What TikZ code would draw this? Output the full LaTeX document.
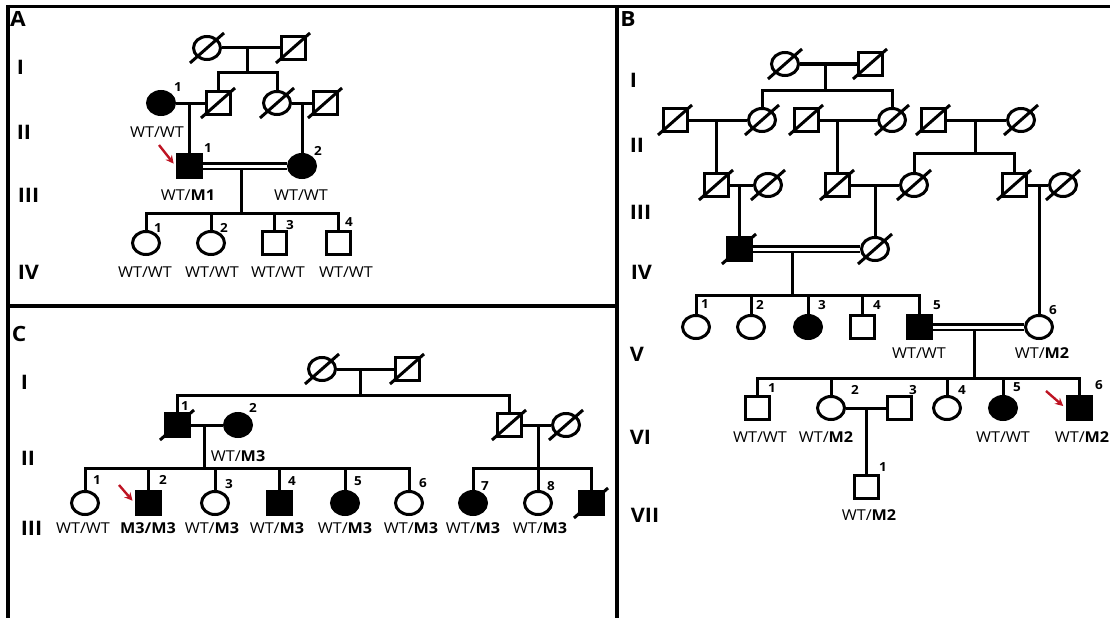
\documentclass[tikz,border=0pt]{standalone}
\usepackage{fontspec}
\setmainfont{Open Sans}[FakeStretch=1.08]
\usetikzlibrary{shapes.geometric,arrows.meta}
\definecolor{rosso}{RGB}{190,20,35}
% segno di decesso
\newcommand{\deceduto}[1]{\draw[taglio] ([shift={(-17,15)}]#1.center) -- ([shift={(17,-15)}]#1.center);}
\begin{document}
\begin{tikzpicture}[x=1pt, y=-1pt, line width=3pt,
    maschio/.style={draw, rectangle, minimum width=24pt, minimum height=23pt, inner sep=0pt},
    femmina/.style={draw, ellipse, minimum width=27pt, minimum height=23pt, inner sep=0pt},
    malato/.style={fill=black},
    taglio/.style={line width=3pt},
    consang/.style={double, double distance=3pt, line width=2.4pt},
    freccia/.style={rosso, line width=2.4pt, -{Stealth[length=8pt, width=8pt]}, shorten >=3pt},
    genot/.style={font=\fontsize{15}{15}\selectfont},
    num/.style={font=\bfseries\fontsize{12.5}{12.5}\selectfont},
    gen/.style={font=\bfseries\fontsize{20}{20}\selectfont, anchor=west},
    pannello/.style={font=\bfseries\fontsize{21}{21}\selectfont}]
    \useasboundingbox (0,0) rectangle (1110,618);

    % Cornici
    \draw[line width=3.4pt] (8,6.5) -- (1110,6.5);
    \draw[line width=3.4pt] (8,5) -- (8,618);
    \draw[line width=3.4pt] (617,5) -- (617,618);
    \draw[line width=3.4pt] (8,306) -- (617,306);

    % ---------------- Pannello A ----------------
    \node[pannello] at (18,19) {A};
    \node[gen] at (12,67) {I};
    \node[gen] at (12,132) {II};
    \node[gen] at (13,195) {III};
    \node[gen] at (13,272) {IV};

    % Generazione I
    \node[femmina] (AI1) at (207,48) {};
    \node[maschio] (AI2) at (293,48) {};
    \deceduto{AI1} \deceduto{AI2}
    % Generazione II
    \node[femmina, malato] (AII1) at (161,103) {};
    \node[maschio] (AII2) at (218,103) {};
    \node[femmina] (AII3) at (277,103) {};
    \node[maschio] (AII4) at (325,103) {};
    \deceduto{AII2} \deceduto{AII3} \deceduto{AII4}
    % Generazione III
    \node[maschio, malato] (AIII1) at (189,166) {};
    \node[femmina, malato] (AIII2) at (302,166) {};
    % Generazione IV
    \node[femmina] (AIV1) at (146,243) {};
    \node[femmina] (AIV2) at (211,243) {};
    \node[maschio] (AIV3) at (274,243) {};
    \node[maschio] (AIV4) at (338,243) {};

    % Connessioni
    \coordinate (mAI) at (247,48);
    \coordinate (sAI) at (247,72);
    \coordinate (mAII1) at (189,103);
    \coordinate (mAII2) at (302,103);
    \coordinate (mAIII) at (241,169);
    \coordinate (sAIII) at (241,213);
    \draw (AI1) -- (AI2);
    \draw (mAI) -- (sAI);
    \draw (AII2) |- (sAI) -| (AII3);
    \draw (AII1) -- (AII2);
    \draw (AII3) -- (AII4);
    \draw (mAII1) -- (AIII1);
    \draw (mAII2) -- (AIII2);
    \draw[consang] (AIII1) -- (AIII2);
    \draw (mAIII) -- (sAIII);
    \draw (AIV1) |- (sAIII) -| (AIV4);
    \draw (AIV2) -- (AIV2 |- sAIII);
    \draw (AIV3) -- (AIV3 |- sAIII);

    % Etichette
    \node[num] at (178,87) {1};
    \node[genot] at (157,132) {WT/WT};
    \node[num] at (208,148) {1};
    \node[genot] at (188,195) {WT/\textbf{M1}};
    \node[num] at (318,151) {2};
    \node[genot] at (301,195) {WT/WT};
    \node[num] at (158,228) {1};
    \node[num] at (224,228) {2};
    \node[num] at (290,225) {3};
    \node[num] at (349,222) {4};
    \node[genot] at (145,272) {WT/WT};
    \node[genot] at (212,272) {WT/WT};
    \node[genot] at (278,272) {WT/WT};
    \node[genot] at (346,272) {WT/WT};
    \coordinate (frA) at (159,145);
    \draw[freccia] (frA) -- (AIII1.west);

    % ---------------- Pannello C ----------------
    \node[pannello] at (19,334) {C};
    \node[gen] at (16,382) {I};
    \node[gen] at (16,458) {II};
    \node[gen] at (16,528) {III};

    % Generazione I
    \node[femmina] (CI1) at (322,369) {};
    \node[maschio] (CI2) at (407,369) {};
    \deceduto{CI1} \deceduto{CI2}
    % Generazione II
    \node[maschio, malato] (CII1) at (177,425) {};
    \node[femmina, malato] (CII2) at (238,425) {};
    \node[maschio] (CII3) at (509,425) {};
    \node[femmina] (CII4) at (566,425) {};
    \deceduto{CII1} \deceduto{CII3} \deceduto{CII4}
    % Generazione III
    \node[femmina] (CIII1) at (85,503) {};
    \node[maschio, malato] (CIII2) at (148,503) {};
    \node[femmina] (CIII3) at (215,503) {};
    \node[maschio, malato] (CIII4) at (279,503) {};
    \node[femmina, malato] (CIII5) at (345,503) {};
    \node[femmina] (CIII6) at (409,503) {};
    \node[femmina, malato] (CIII7) at (473,503) {};
    \node[femmina] (CIII8) at (538,503) {};
    \node[maschio, malato] (CIII9) at (591,503) {};
    \deceduto{CIII9}

    % Connessioni
    \coordinate (mCI) at (360,369);
    \coordinate (sCI) at (360,395);
    \coordinate (mCII1) at (204,425);
    \coordinate (sCII1) at (204,468);
    \coordinate (mCII2) at (538,425);
    \coordinate (sCII2) at (538,468);
    \draw (CI1) -- (CI2);
    \draw (mCI) -- (sCI);
    \draw (CII1) |- (sCI) -| (CII3);
    \draw (CII1) -- (CII2);
    \draw (CII3) -- (CII4);
    \draw (mCII1) -- (sCII1);
    \draw (CIII1) |- (sCII1) -| (CIII6);
    \foreach \n in {CIII2,CIII3,CIII4,CIII5}
        \draw (\n) -- (\n |- sCII1);
    \draw (mCII2) -- (CIII8);
    \draw (CIII7) |- (sCII2) -| (CIII9);

    % Etichette
    \node[num] at (185,406) {1};
    \node[num] at (253,408) {2};
    \node[genot, anchor=west] at (206,456) {WT/\textbf{M3}};
    \node[num] at (97,480) {1};
    \node[num] at (163,480) {2};
    \node[num] at (229,484) {3};
    \node[num] at (292,481) {4};
    \node[num] at (358,481) {5};
    \node[num] at (423,483) {6};
    \node[num] at (485,486) {7};
    \node[num] at (551,486) {8};
    \node[genot] at (83,528) {WT/WT};
    \node[genot] at (148,528) {\textbf{M3/M3}};
    \node[genot] at (212,528) {WT/\textbf{M3}};
    \node[genot] at (277,528) {WT/\textbf{M3}};
    \node[genot] at (345,528) {WT/\textbf{M3}};
    \node[genot] at (411,528) {WT/\textbf{M3}};
    \node[genot] at (473,528) {WT/\textbf{M3}};
    \node[genot] at (540,528) {WT/\textbf{M3}};
    \coordinate (frC) at (119,485);
    \draw[freccia] (frC) -- (CIII2.west);

    % ---------------- Pannello B ----------------
    \node[pannello] at (628,19) {B};
    \node[gen] at (625,80) {I};
    \node[gen] at (625,145) {II};
    \node[gen] at (625,212) {III};
    \node[gen] at (626,272) {IV};
    \node[gen] at (625,354) {V};
    \node[gen] at (625,437) {VI};
    \node[gen] at (626,515) {VII};

    % Generazione I
    \node[femmina] (BI1) at (785,64) {};
    \node[maschio] (BI2) at (870,64) {};
    \deceduto{BI1} \deceduto{BI2}
    % Generazione II
    \node[maschio] (BII1) at (675,120) {};
    \node[femmina] (BII2) at (762,120) {};
    \node[maschio] (BII3) at (806,120) {};
    \node[femmina] (BII4) at (892,120) {};
    \node[maschio] (BII5) at (933,120) {};
    \node[femmina] (BII6) at (1021,120) {};
    \foreach \n in {BII1,BII2,BII3,BII4,BII5,BII6}
        \deceduto{\n}
    % Generazione III
    \node[maschio] (BIII1) at (716,185) {};
    \node[femmina] (BIII2) at (768,185) {};
    \node[maschio] (BIII3) at (837,185) {};
    \node[femmina] (BIII4) at (914,185) {};
    \node[maschio] (BIII5) at (1014,185) {};
    \node[femmina] (BIII6) at (1063,185) {};
    \foreach \n in {BIII1,BIII2,BIII3,BIII4,BIII5,BIII6}
        \deceduto{\n}
    % Generazione IV
    \node[maschio, malato] (BIV1) at (739,249) {};
    \node[femmina] (BIV2) at (875,249) {};
    \deceduto{BIV1} \deceduto{BIV2}
    % Generazione V
    \node[femmina] (BV1) at (696,327) {};
    \node[femmina] (BV2) at (751,327) {};
    \node[femmina, malato] (BV3) at (808,327) {};
    \node[maschio] (BV4) at (862,327) {};
    \node[maschio, malato] (BV5) at (919,327) {};
    \node[femmina] (BV6) at (1039,327) {};
    % Generazione VI
    \node[maschio] (BVI1) at (757,408) {};
    \node[femmina] (BVI2) at (831,408) {};
    \node[maschio] (BVI3) at (899,408) {};
    \node[femmina] (BVI4) at (947,408) {};
    \node[femmina, malato] (BVI5) at (1003,408) {};
    \node[maschio, malato] (BVI6) at (1079,408) {};
    % Generazione VII
    \node[maschio] (BVII1) at (866,487) {};

    % Connessioni
    \coordinate (mBI) at (825,64);
    \coordinate (sBI) at (825,90);
    \coordinate (mBII1) at (716,120);
    \coordinate (mBII2) at (837,120);
    \coordinate (mBII3) at (975,120);
    \coordinate (sBII3) at (975,153);
    \coordinate (mBIII1) at (739,185);
    \coordinate (mBIII2) at (875,185);
    \coordinate (mBIII3) at (1039,185);
    \coordinate (mBIV) at (792,252);
    \coordinate (sBIV) at (792,295);
    \coordinate (mBV) at (974,330);
    \coordinate (sBV) at (974,378);
    \coordinate (mBVI) at (866,408);
    \draw (BI1) -- (BI2);
    \draw (mBI) -- (sBI);
    \draw (BII2) |- (sBI) -| (BII4);
    \draw (BII1) -- (BII2);
    \draw (BII3) -- (BII4);
    \draw (BII5) -- (BII6);
    \draw (mBII1) -- (BIII1);
    \draw (mBII2) -- (BIII3);
    \draw (mBII3) -- (sBII3);
    \draw (BIII4) |- (sBII3) -| (BIII5);
    \draw (BIII1) -- (BIII2);
    \draw (BIII3) -- (BIII4);
    \draw (BIII5) -- (BIII6);
    \draw (mBIII1) -- (BIV1);
    \draw (mBIII2) -- (BIV2);
    \draw (mBIII3) -- (BV6);
    \draw[consang] (BIV1) -- (BIV2);
    \draw (mBIV) -- (sBIV);
    \draw (BV1) |- (sBIV) -| (BV5);
    \foreach \n in {BV2,BV3,BV4}
        \draw (\n) -- (\n |- sBIV);
    \draw[consang] (BV5) -- (BV6);
    \draw (mBV) -- (sBV);
    \draw (BVI1) |- (sBV) -| (BVI6);
    \foreach \n in {BVI2,BVI4,BVI5}
        \draw (\n) -- (\n |- sBV);
    \draw (BVI2) -- (BVI3);
    \draw (mBVI) -- (BVII1);

    % Etichette
    \node[num] at (705,304) {1};
    \node[num] at (760,305) {2};
    \node[num] at (822,305) {3};
    \node[num] at (877,305) {4};
    \node[num] at (937,305) {5};
    \node[num] at (1053,310) {6};
    \node[genot] at (919,353) {WT/WT};
    \node[genot] at (1042,353) {WT/\textbf{M2}};
    \node[num] at (772,388) {1};
    \node[num] at (855,390) {2};
    \node[num] at (913,390) {3};
    \node[num] at (962,390) {4};
    \node[num] at (1017,387) {5};
    \node[num] at (1099,385) {6};
    \node[genot] at (760,437) {WT/WT};
    \node[genot] at (826,437) {WT/\textbf{M2}};
    \node[genot] at (1003,437) {WT/WT};
    \node[genot] at (1082,437) {WT/\textbf{M2}};
    \node[num] at (883,467) {1};
    \node[genot] at (869,515) {WT/\textbf{M2}};
    \coordinate (frB) at (1046,391);
    \draw[freccia] (frB) -- (BVI6.west);
\end{tikzpicture}
\end{document}
